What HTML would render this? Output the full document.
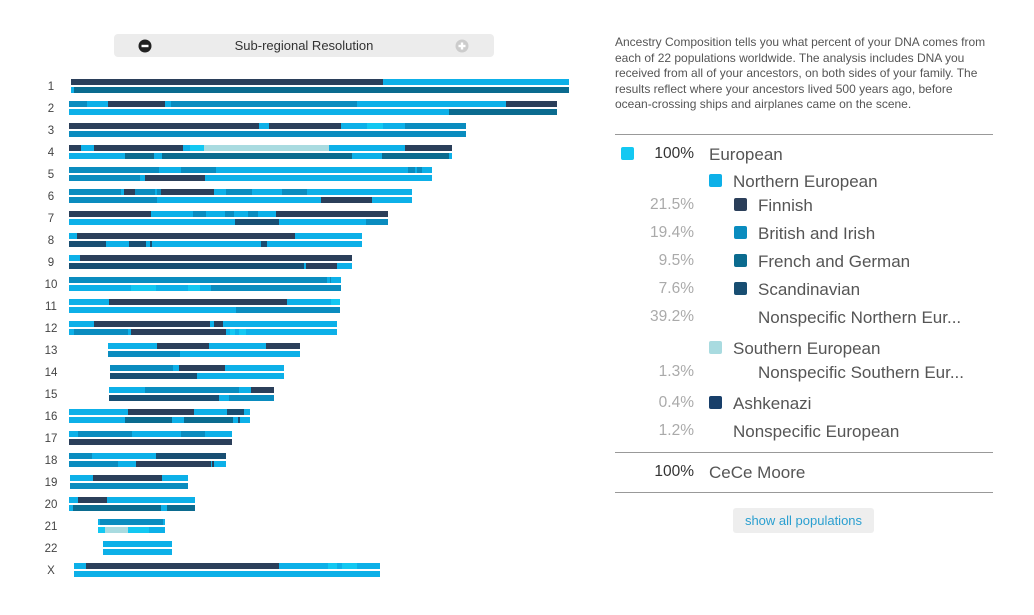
<!DOCTYPE html>
<html><head><meta charset="utf-8">
<style>
body{margin:0;width:1034px;height:615px;background:#fff;font-family:"Liberation Sans",sans-serif;position:relative;overflow:hidden}
.abs{position:absolute}
.pill{left:114px;top:34px;width:380px;height:23px;background:#ececec;border-radius:4px}
.pill .t{position:absolute;left:0;right:0;top:4px;text-align:center;font-size:13px;color:#333}
.desc{left:615px;top:35px;width:400px;font-size:12px;line-height:15.5px;color:#555;white-space:nowrap}
.hr{left:615px;width:378px;height:1px;background:#999}
.row{position:absolute;font-size:17px;color:#555;white-space:nowrap}
.pct{position:absolute;width:694px;left:0;text-align:right;font-size:15.5px;color:#aaa}
.sq{position:absolute;width:13px;height:13px;border-radius:2px}
.btn{left:733px;top:508px;width:141px;height:25px;background:#eee;border-radius:3px;font-size:13px;color:#2a9fd0;text-align:center;line-height:25px}
</style></head><body>
<div class="abs pill">
  <svg class="abs" style="left:24px;top:5px" width="14" height="14"><circle cx="7" cy="7" r="6.5" fill="#222"/><rect x="3.5" y="5.8" width="7" height="2.4" fill="#fff"/></svg>
  <div class="t">Sub-regional Resolution</div>
  <svg class="abs" style="left:341px;top:5px" width="14" height="14"><circle cx="7" cy="7" r="6.5" fill="#ccc"/><rect x="3.5" y="5.8" width="7" height="2.4" fill="#fff"/><rect x="5.8" y="3.5" width="2.4" height="7" fill="#fff"/></svg>
</div>
<div id="chart" class="abs" style="left:0;top:0"></div>

<div class="abs desc">Ancestry Composition tells you what percent of your DNA comes from<br>each of 22 populations worldwide. The analysis includes DNA you<br>received from all of your ancestors, on both sides of your family. The<br>results reflect where your ancestors lived 500 years ago, before<br>ocean-crossing ships and airplanes came on the scene.</div>
<div class="abs hr" style="top:134px"></div>

<div><div class="sq" style="left:621px;top:147px;background:#13c8f2"></div><div class="pct" style="top:145px;color:#333">100%</div><div class="row" style="left:709px;top:145px">European</div></div>
<div><div class="sq" style="left:709px;top:174px;background:#0db0e8"></div><div class="row" style="left:733px;top:172px">Northern European</div></div>
<div><div class="pct" style="top:196px">21.5%</div><div class="sq" style="left:734px;top:198px;background:#2b3f5a"></div><div class="row" style="left:758px;top:196px">Finnish</div></div>
<div><div class="pct" style="top:224px">19.4%</div><div class="sq" style="left:734px;top:226px;background:#0a8cbf"></div><div class="row" style="left:758px;top:224px">British and Irish</div></div>
<div><div class="pct" style="top:252px">9.5%</div><div class="sq" style="left:734px;top:254px;background:#0b6b8f"></div><div class="row" style="left:758px;top:252px">French and German</div></div>
<div><div class="pct" style="top:280px">7.6%</div><div class="sq" style="left:734px;top:282px;background:#184e72"></div><div class="row" style="left:758px;top:280px">Scandinavian</div></div>
<div><div class="pct" style="top:308px">39.2%</div><div class="row" style="left:758px;top:308px">Nonspecific Northern Eur...</div></div>
<div><div class="sq" style="left:709px;top:341px;background:#a9dbe0"></div><div class="row" style="left:733px;top:339px">Southern European</div></div>
<div><div class="pct" style="top:363px">1.3%</div><div class="row" style="left:758px;top:363px">Nonspecific Southern Eur...</div></div>
<div><div class="pct" style="top:394px">0.4%</div><div class="sq" style="left:709px;top:396px;background:#183f6a"></div><div class="row" style="left:733px;top:394px">Ashkenazi</div></div>
<div><div class="pct" style="top:422px">1.2%</div><div class="row" style="left:733px;top:422px">Nonspecific European</div></div>
<div class="abs hr" style="top:452px"></div>
<div><div class="pct" style="top:463px;color:#333">100%</div><div class="row" style="left:709px;top:463px">CeCe Moore</div></div>
<div class="abs hr" style="top:492px"></div>
<div class="abs btn">show all populations</div>

<script>
const chromosomes=["1","2","3","4","5","6","7","8","9","10","11","12","13","14","15","16","17","18","19","20","21","22","X"];
const chrStart=[0.5,-0.5,-0.5,-0.5,-0.5,-0.5,-0.5,-0.5,-0.5,-0.5,-0.5,-0.5,19,20,19.5,-0.5,-0.5,-0.5,0,-0.5,14,16.5,2];
const colors={F:"#2b3f5a",B:"#0a8cbf",G:"#0b6b8f",S:"#184e72",N:"#0db0e8",E:"#13c8f2",So:"#a9dbe0"};
const topStrand=[
[[156.5,"F"],[249.5,"N"]],
[[8.5,"B"],[19,"N"],[47.5,"F"],[50.5,"N"],[143.5,"B"],[218,"N"],[243.5,"F"]],
[[94.5,"F"],[99.5,"N"],[135.5,"F"],[148.5,"N"],[156.5,"E"],[167.5,"N"],[198,"B"]],
[[5.5,"F"],[12,"N"],[56.5,"F"],[60,"N"],[67,"E"],[129.5,"So"],[167.5,"N"],[191,"F"]],
[[44.5,"B"],[55.5,"N"],[73,"B"],[169,"N"],[172.5,"B"],[173.5,"N"],[176,"B"],[181,"N"]],
[[25.5,"B"],[27,"N"],[32.5,"F"],[42.5,"B"],[43.5,"N"],[45.5,"B"],[72,"F"],[78,"N"],[91,"B"],[106,"N"],[118.5,"B"],[171,"N"]],
[[40.5,"F"],[61.5,"N"],[68,"B"],[77.5,"N"],[82,"B"],[89,"N"],[94,"B"],[103,"N"],[159,"F"]],
[[3.5,"N"],[112.5,"F"],[146,"N"]],
[[5,"N"],[141,"F"]],
[[128.5,"B"],[130,"N"],[130.5,"B"],[135.5,"N"]],
[[19.5,"N"],[108.5,"F"],[130.5,"N"],[135,"E"]],
[[12,"N"],[70,"F"],[72,"N"],[76.5,"F"],[133.5,"N"]],
[[43.5,"N"],[69.5,"F"],[98,"N"],[115,"F"]],
[[51.5,"B"],[54.5,"N"],[77.5,"F"],[107,"N"]],
[[37.5,"N"],[84.5,"B"],[90.5,"N"],[102,"F"]],
[[29,"N"],[62,"F"],[78.5,"N"],[87,"S"],[90,"N"]],
[[4,"N"],[31,"B"],[55.5,"N"],[67.5,"B"],[81,"N"]],
[[11,"B"],[43,"N"],[78,"S"]],
[[11.5,"N"],[46,"F"],[59,"N"]],
[[4,"N"],[18.5,"F"],[62.5,"N"]],
[[15,"N"],[46.5,"B"],[47.5,"N"]],
[[51,"N"]],
[[8,"N"],[104.5,"F"],[129,"N"],[133.5,"E"],[136,"N"],[143.5,"E"],[155,"N"]]
];
const bottomStrand=[
[[2,"N"],[249.5,"G"]],
[[189.5,"N"],[243.5,"G"]],
[[198,"B"]],
[[27.5,"N"],[42,"G"],[46,"N"],[141,"G"],[156,"N"],[189.5,"G"],[191,"N"]],
[[35,"B"],[37.5,"N"],[67.5,"F"],[181,"N"]],
[[43.5,"B"],[125.5,"N"],[151,"F"],[171,"N"]],
[[82.5,"N"],[104.5,"S"],[148,"N"],[159,"B"]],
[[18,"S"],[29.5,"N"],[38,"S"],[40,"N"],[41,"S"],[95.5,"N"],[98.5,"S"],[146,"N"]],
[[117,"S"],[118,"N"],[133.5,"F"],[141,"N"]],
[[30.5,"N"],[43,"E"],[59,"N"],[65,"E"],[70.5,"N"],[135.5,"B"]],
[[83,"N"],[135,"B"]],
[[2,"N"],[29,"B"],[30.5,"N"],[78,"F"],[80,"N"],[82.5,"E"],[84.5,"N"],[88,"E"],[133.5,"N"]],
[[55,"B"],[115,"N"]],
[[63.5,"S"],[107,"N"]],
[[74.5,"S"],[79.5,"N"],[102,"B"]],
[[27.5,"N"],[51,"G"],[57,"N"],[81.5,"G"],[84,"N"],[85,"S"],[90,"N"]],
[[81,"F"]],
[[24,"B"],[33,"N"],[70.5,"F"],[71,"N"],[72,"F"],[78,"N"]],
[[59,"B"]],
[[1.5,"N"],[45.5,"G"],[48.5,"N"],[62.5,"G"]],
[[17.5,"E"],[29,"So"],[39.5,"E"],[47.5,"N"]],
[[51,"N"]],
[[155,"N"]]
];
const xScale=v=>70+v*2;
const yScale=i=>86+i*22;
const NS="http://www.w3.org/2000/svg";
const svg=document.createElementNS(NS,"svg");
svg.setAttribute("width","600");svg.setAttribute("height","615");
svg.setAttribute("style","position:absolute;left:0;top:0");


document.getElementById("chart").appendChild(svg);
chromosomes.forEach((c,i)=>{
  const cy=yScale(i);
  const t=document.createElementNS(NS,"text");
  t.setAttribute("x","51");t.setAttribute("y",cy+4);t.setAttribute("text-anchor","middle");
  t.setAttribute("font-size","11.5");t.setAttribute("fill","#444");t.setAttribute("font-family","Liberation Sans, sans-serif");
  t.textContent=c;
  
  
  svg.appendChild(t);
  [[topStrand[i],cy-7],[bottomStrand[i],cy+1]].forEach(([segs,y],k)=>{
    let s=chrStart[i];
    segs.forEach(([e,code])=>{
      const r=document.createElementNS(NS,"rect");
      r.setAttribute("x",xScale(s));r.setAttribute("y",y);
      r.setAttribute("width",Math.max(0,xScale(e)-xScale(s)));r.setAttribute("height","6");
      r.setAttribute("fill",colors[code]);
      
      
      svg.appendChild(r);
      s=e;
    });
  });
});
</script>
</body></html>
